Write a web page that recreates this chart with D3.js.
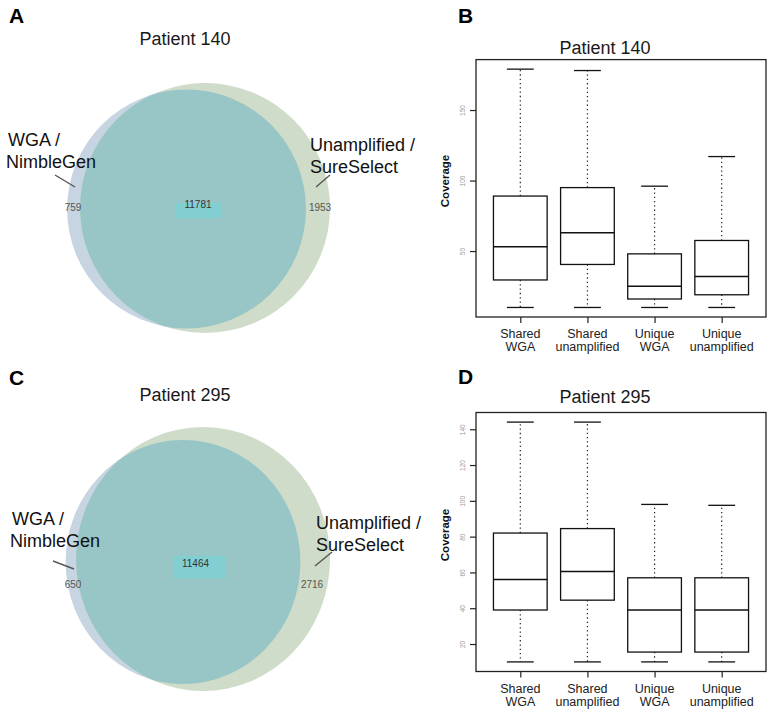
<!DOCTYPE html>
<html><head><meta charset="utf-8">
<script src="https://cdn.jsdelivr.net/npm/d3@7"></script>
<style>
body{margin:0;background:#fff}
svg{display:block}
text{font-family:"Liberation Sans",Arial,Helvetica,sans-serif}
</style>
</head><body>
<svg id="chart" width="773" height="716"></svg>
<script>
// ---------- data ----------
const categories = ["Shared WGA", "Shared unamplified", "Unique WGA", "Unique unamplified"];
const labelLine1 = ["Shared", "Shared", "Unique", "Unique"];
const labelLine2 = ["WGA", "unamplified", "WGA", "unamplified"];

// Patient 140 coverage box statistics
const p140Upper  = [179, 178, 96, 117];
const p140Q3     = [89, 95, 48, 57.5];
const p140Median = [53, 63, 25, 32];
const p140Q1     = [29.5, 40.5, 16, 19];
const p140Lower  = [10, 10, 10, 10];
const p140Ticks  = [50, 100, 150];

// Patient 295 coverage box statistics
const p295Upper  = [144, 144, 98, 97.5];
const p295Q3     = [82, 84.5, 57, 57];
const p295Median = [56, 60.5, 39, 39];
const p295Q1     = [39, 44.5, 15.5, 15.5];
const p295Lower  = [10, 10, 10, 10];
const p295Ticks  = [20, 40, 60, 80, 100, 120, 140];

// Venn counts: [only WGA/NimbleGen, shared, only Unamplified/SureSelect]
const vennSetNames = ["WGA / NimbleGen", "Unamplified / SureSelect"];
const venn140 = [759, 11781, 1953];
const venn295 = [650, 11464, 2716];

// ---------- drawing ----------
const svg = d3.select("#chart");
svg.append("rect").attr("width", 773).attr("height", 716).attr("fill", "#fff");

const FONT = '"Liberation Sans", Arial, Helvetica, sans-serif';

function panelLetter(x, y, t) {
  svg.append("text").attr("x", x).attr("y", y).attr("font-size", 21)
    .attr("font-weight", "bold").attr("fill", "#000").text(t);
}
function title(x, y, t) {
  svg.append("text").attr("x", x).attr("y", y).attr("font-size", 18)
    .attr("text-anchor", "middle").attr("fill", "#1a1a1a").text(t);
}

// radius scale for the Venn circles (area proportional to set size)
const rScale = d3.scaleSqrt().domain([0, 13734]).range([0, 125]);

let clipId = 0;
function venn(counts, cfg) {
  const g = svg.append("g");
  const totalA = counts[0] + counts[1];
  const totalB = counts[1] + counts[2];
  const rA = rScale(totalA), rB = rScale(totalB);
  const id = "clip" + (clipId++);
  g.append("clipPath").attr("id", id).append("ellipse")
    .attr("cx", cfg.ax).attr("cy", cfg.ay).attr("rx", rA).attr("ry", rA * cfg.ky);
  g.append("ellipse").attr("cx", cfg.ax).attr("cy", cfg.ay).attr("rx", rA).attr("ry", rA * cfg.ky)
    .attr("fill", "#c6d5e1");
  g.append("ellipse").attr("cx", cfg.bx).attr("cy", cfg.by).attr("rx", rB).attr("ry", rB * cfg.ky)
    .attr("fill", "#cedcc9");
  g.append("ellipse").attr("cx", cfg.bx).attr("cy", cfg.by).attr("rx", rB).attr("ry", rB * cfg.ky)
    .attr("fill", "#98c5c6").attr("clip-path", `url(#${id})`);
  // shared count box
  g.append("rect").attr("x", cfg.rect[0]).attr("y", cfg.rect[1]).attr("width", cfg.rect[2]).attr("height", cfg.rect[3])
    .attr("fill", "#82cfd1");
  g.append("text").attr("x", cfg.sharedPos[0]).attr("y", cfg.sharedPos[1]).attr("font-size", 10)
    .attr("text-anchor", "middle").attr("fill", "#333").text(counts[1]);
  g.append("text").attr("x", cfg.aPos[0]).attr("y", cfg.aPos[1]).attr("font-size", 10)
    .attr("text-anchor", "middle").attr("fill", "#555").text(counts[0]);
  g.append("text").attr("x", cfg.bPos[0]).attr("y", cfg.bPos[1]).attr("font-size", 10)
    .attr("text-anchor", "middle").attr("fill", "#555").text(counts[2]);
  // set labels
  const [aL1, aL2] = ["WGA /", "NimbleGen"];
  const [bL1, bL2] = ["Unamplified /", "SureSelect"];
  g.append("text").attr("x", cfg.aLab[0]).attr("y", cfg.aLab[1]).attr("font-size", 18).attr("fill", "#111").text(aL1);
  g.append("text").attr("x", cfg.aLab[0] - 2).attr("y", cfg.aLab[1] + 22).attr("font-size", 18).attr("fill", "#111").text(aL2);
  g.append("text").attr("x", cfg.bLab[0]).attr("y", cfg.bLab[1]).attr("font-size", 18).attr("fill", "#111").text(bL1);
  g.append("text").attr("x", cfg.bLab[0]).attr("y", cfg.bLab[1] + 22).attr("font-size", 18).attr("fill", "#111").text(bL2);
  g.append("line").attr("x1", cfg.aLine[0]).attr("y1", cfg.aLine[1]).attr("x2", cfg.aLine[2]).attr("y2", cfg.aLine[3])
    .attr("stroke", "#555").attr("stroke-width", 1.4);
  g.append("line").attr("x1", cfg.bLine[0]).attr("y1", cfg.bLine[1]).attr("x2", cfg.bLine[2]).attr("y2", cfg.bLine[3])
    .attr("stroke", "#555").attr("stroke-width", 1.4);
}

function boxplot(stats, ticks, frame, ylab) {
  const g = svg.append("g");
  const lo = d3.min(stats.lower), hi = d3.max(stats.upper);
  const pad = (hi - lo) * 0.04;
  const y = d3.scaleLinear().domain([lo - pad, hi + pad]).range([frame.bottom, frame.top]);
  const x = d3.scalePoint().domain(categories).range([frame.left, frame.right]).padding(0.66);
  const bw = x.step() * 0.8, cw = bw / 2;

  // y axis
  const ya = g.append("g").attr("transform", `translate(${frame.left},0)`)
    .call(d3.axisLeft(y).tickValues(ticks).tickSize(6).tickFormat(d3.format("d")));
  ya.select(".domain").remove();
  ya.selectAll(".tick line").attr("stroke", "#222").attr("stroke-width", 1.2);
  ya.selectAll(".tick text").attr("x", 0).attr("dy", 0)
    .attr("transform", "translate(-11,0) rotate(-90)").attr("text-anchor", "middle")
    .attr("font-size", 6.5).attr("fill", "#999").attr("font-family", FONT);

  // x axis
  const xa = g.append("g").attr("transform", `translate(0,${frame.bottom})`)
    .call(d3.axisBottom(x).tickSize(6).tickFormat(""));
  xa.select(".domain").remove();
  xa.selectAll(".tick line").attr("stroke", "#222").attr("stroke-width", 1.2);
  categories.forEach((c, i) => {
    g.append("text").attr("x", x(c)).attr("y", frame.bottom + 21).attr("font-size", 12.5)
      .attr("text-anchor", "middle").attr("fill", "#222").text(labelLine1[i]);
    g.append("text").attr("x", x(c)).attr("y", frame.bottom + 34).attr("font-size", 12.5)
      .attr("text-anchor", "middle").attr("fill", "#222").text(labelLine2[i]);
  });

  // boxes
  categories.forEach((c, i) => {
    const cx = x(c);
    g.append("line").attr("x1", cx).attr("x2", cx).attr("y1", y(stats.q3[i])).attr("y2", y(stats.upper[i]))
      .attr("stroke", "#222").attr("stroke-width", 1.2).attr("stroke-dasharray", "1.3,3");
    g.append("line").attr("x1", cx).attr("x2", cx).attr("y1", y(stats.q1[i])).attr("y2", y(stats.lower[i]))
      .attr("stroke", "#222").attr("stroke-width", 1.2).attr("stroke-dasharray", "1.3,3");
    g.append("line").attr("x1", cx - cw / 2).attr("x2", cx + cw / 2).attr("y1", y(stats.upper[i])).attr("y2", y(stats.upper[i]))
      .attr("stroke", "#111").attr("stroke-width", 1.3);
    g.append("line").attr("x1", cx - cw / 2).attr("x2", cx + cw / 2).attr("y1", y(stats.lower[i])).attr("y2", y(stats.lower[i]))
      .attr("stroke", "#111").attr("stroke-width", 1.3);
    g.append("rect").attr("x", cx - bw / 2).attr("y", y(stats.q3[i])).attr("width", bw)
      .attr("height", y(stats.q1[i]) - y(stats.q3[i])).attr("fill", "#fff")
      .attr("stroke", "#111").attr("stroke-width", 1.3);
    g.append("line").attr("x1", cx - bw / 2).attr("x2", cx + bw / 2).attr("y1", y(stats.median[i])).attr("y2", y(stats.median[i]))
      .attr("stroke", "#111").attr("stroke-width", 1.5);
  });

  // frame
  g.append("rect").attr("x", frame.left).attr("y", frame.top)
    .attr("width", frame.right - frame.left).attr("height", frame.bottom - frame.top)
    .attr("fill", "none").attr("stroke", "#222").attr("stroke-width", 1.3);

  // y label
  g.append("text").attr("transform", `translate(${ylab[0]},${ylab[1]}) rotate(-90)`)
    .attr("text-anchor", "middle").attr("font-size", 11.5).attr("font-weight", "bold")
    .attr("fill", "#111").text("Coverage");
}

// Panel A
panelLetter(9, 23, "A");
title(185, 45, "Patient 140");
venn(venn140, {
  ax: 186.5, ay: 209, bx: 205, by: 208, ky: 1,
  rect: [176, 203, 45, 15], sharedPos: [198, 208], aPos: [73, 211], bPos: [320, 211],
  aLab: [8, 146], bLab: [310, 151],
  aLine: [55, 175, 75, 187], bLine: [330, 175, 316, 187]
});

// Panel C
panelLetter(9, 385, "C");
title(185, 401, "Patient 295");
venn(venn295, {
  ax: 183, ay: 562, bx: 203, by: 559, ky: 1.04,
  rect: [173, 556, 53, 22], sharedPos: [195.5, 567], aPos: [73, 588], bPos: [312, 588],
  aLab: [12, 525], bLab: [316, 529],
  aLine: [53, 561, 74, 569], bLine: [332, 552, 315, 566]
});

// Panel B
panelLetter(458, 23, "B");
title(605, 54, "Patient 140");
boxplot({upper: p140Upper, q3: p140Q3, median: p140Median, q1: p140Q1, lower: p140Lower},
  p140Ticks, {left: 476, right: 766, top: 59.6, bottom: 317}, [449, 181]);

// Panel D
panelLetter(458, 384, "D");
title(605, 403, "Patient 295");
boxplot({upper: p295Upper, q3: p295Q3, median: p295Median, q1: p295Q1, lower: p295Lower},
  p295Ticks, {left: 476, right: 766, top: 412.5, bottom: 671.5}, [449, 535]);
</script>
</body></html>
